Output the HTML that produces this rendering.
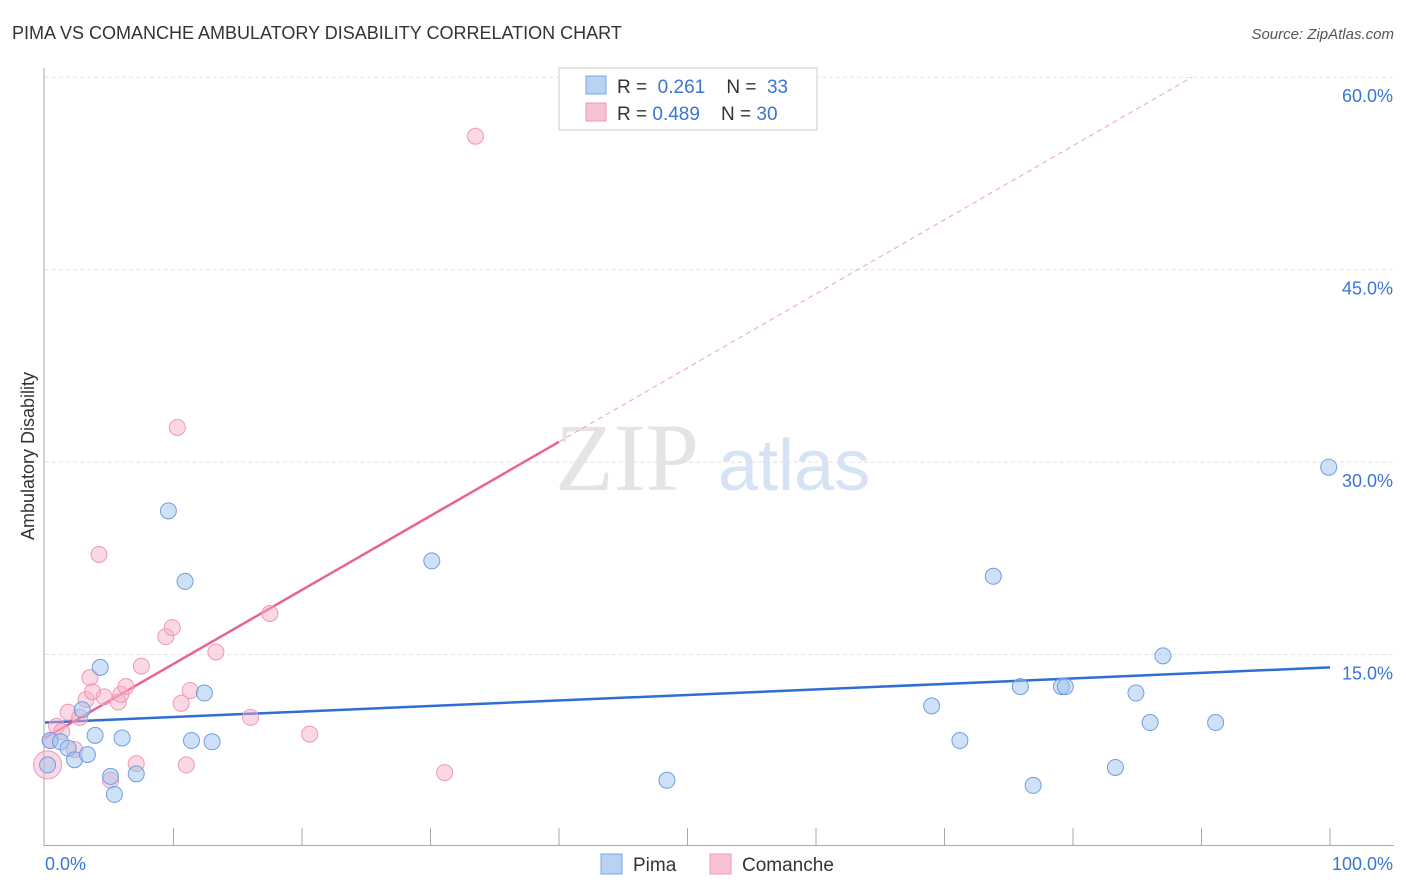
<!DOCTYPE html>
<html><head><meta charset="utf-8"><style>
body{margin:0;background:#fff;font-family:"Liberation Sans",sans-serif;}
svg{display:block}
</style></head><body>
<svg id="chart" width="1406" height="892">
<text x="12" y="39" font-size="18" fill="#333">PIMA VS COMANCHE AMBULATORY DISABILITY CORRELATION CHART</text>
<text x="1394" y="39" font-size="15" fill="#555" font-style="italic" text-anchor="end">Source: ZipAtlas.com</text>
<text transform="translate(34,456) rotate(-90)" font-size="18" fill="#333" text-anchor="middle">Ambulatory Disability</text>
<g><text x="555" y="490" font-size="96" font-family="Liberation Serif,serif" fill="#e4e4e4">ZIP</text><text x="718" y="490" font-size="72" fill="#d5e3f5">atlas</text></g>
<g id="grid"></g><g id="axes"></g><g id="trend"></g><g id="pts"></g>
<g>
<rect x="559" y="68" width="258" height="62" fill="#fff" stroke="#ccc"/>
<rect x="586" y="76" width="20" height="18" fill="#b7d2f4" stroke="#7aa7e0"/>
<text x="617" y="93" font-size="19" fill="#333">R = <tspan fill="#3a75d6">&#160;0.261</tspan>&#160;&#160;&#160; N = <tspan fill="#3a75d6">&#160;33</tspan></text>
<rect x="586" y="103" width="20" height="18" fill="#f9c3d4" stroke="#ef98b4"/>
<text x="617" y="120" font-size="19" fill="#333">R = <tspan fill="#3a75d6">0.489</tspan>&#160;&#160;&#160; N = <tspan fill="#3a75d6">30</tspan></text>
</g>
<g>
<rect x="601" y="854" width="21" height="20" fill="#b7d2f4" stroke="#7aa7e0"/><text x="633" y="871" font-size="19" fill="#333">Pima</text>
<rect x="710" y="854" width="21" height="20" fill="#f9c3d4" stroke="#ef98b4"/><text x="742" y="871" font-size="19" fill="#333">Comanche</text>
</g>
</svg>
<script>
const pimaX=[0.4,1.2,1.8,2.3,2.9,3.3,3.9,4.3,5.1,5.4,6.0,7.1,9.6,10.9,11.4,12.4,13.0,30.1,48.4,69.0,71.2,73.8,75.9,76.9,79.1,79.4,83.3,84.9,86.0,87.0,91.1,99.9,0.2];
const pimaY=[8.3,8.2,7.7,6.8,10.7,7.2,8.7,14.0,5.5,4.1,8.5,5.7,26.2,20.7,8.3,12.0,8.2,22.3,5.2,11.0,8.3,21.1,12.5,4.8,12.5,12.5,6.2,12.0,9.7,14.9,9.7,29.6,6.4];
const comX=[0.2,0.4,0.9,1.3,1.8,2.3,2.7,3.2,3.5,3.7,4.2,4.6,5.1,5.7,5.9,6.3,7.1,7.5,9.4,9.9,10.3,10.6,11.0,11.3,13.3,16.0,17.5,20.6,31.1,33.5];
const comY=[6.4,8.3,9.4,9.0,10.5,7.6,10.1,11.5,13.2,12.1,22.8,11.7,5.2,11.3,11.9,12.5,6.5,14.1,16.4,17.1,32.7,11.2,6.4,12.2,15.2,10.1,18.2,8.8,5.8,55.4];
const yTicks=[15,30,45,60];
const yTickLabels=["15.0%","30.0%","45.0%","60.0%"];
const pimaTrend=[9.7,14.0];
const comTrend=[8.5,66.2];
const comSolidEnd=40;
const NS="http://www.w3.org/2000/svg";
const xs=v=>45+v*12.85, ys=v=>847-v*12.83;
function mk(tag,attrs,parent){const e=document.createElementNS(NS,tag);for(const k in attrs)e.setAttribute(k,attrs[k]);document.getElementById(parent).appendChild(e);return e;}
yTicks.forEach((t,i)=>{
 const g=mk('line',{x1:45,x2:1394,y1:ys(t),y2:ys(t),stroke:'#e2e2e2','stroke-dasharray':'4,3'},'grid');
 
 
 const l=mk('text',{x:1393,y:ys(t)+25,'font-size':18,fill:'#3a75d6','text-anchor':'end'},'grid');
 l.textContent=yTickLabels[i];
 
 
});
const ax=mk('line',{x1:44,x2:44,y1:68,y2:846,stroke:'#aaa'},'axes');


const bx=mk('line',{x1:44,x2:1394,y1:845.5,y2:845.5,stroke:'#aaa'},'axes');


for(let i=1;i<=10;i++){const t=mk('line',{x1:xs(i*10),x2:xs(i*10),y1:828,y2:845,stroke:'#aaa'},'axes');
 
 }
const x0=mk('text',{x:45,y:870,'font-size':18,fill:'#3a75d6'},'axes');x0.textContent='0.0%';


const x1=mk('text',{x:1393,y:870,'font-size':18,fill:'#3a75d6','text-anchor':'end'},'axes');x1.textContent='100.0%';


const bt=mk('line',{x1:xs(0),y1:ys(pimaTrend[0]),x2:xs(100),y2:ys(pimaTrend[1]),stroke:'#2f6fd4','stroke-width':2.5},'trend');


const cAt=x=>comTrend[0]+(comTrend[1]-comTrend[0])*x/100;
const ct=mk('line',{x1:xs(0),y1:ys(cAt(0)),x2:xs(comSolidEnd),y2:ys(cAt(comSolidEnd)),stroke:'#e8648f','stroke-width':2.5},'trend');


const xEnd=(60-comTrend[0])/(comTrend[1]-comTrend[0])*100;
const cd=mk('line',{x1:xs(comSolidEnd),y1:ys(cAt(comSolidEnd)),x2:xs(xEnd),y2:ys(60),stroke:'#eea0b8','stroke-width':1,'stroke-dasharray':'5,4'},'trend');


comX.forEach((v,i)=>{const c=mk('circle',{cx:xs(v),cy:ys(comY[i]),r:i===0?14:8,fill:'rgba(247,170,196,0.45)',stroke:'#ef98b4','stroke-width':1},'pts');
 
 });
pimaX.forEach((v,i)=>{const c=mk('circle',{cx:xs(v),cy:ys(pimaY[i]),r:8,fill:'rgba(160,195,240,0.5)',stroke:'#6d9fe0','stroke-width':1},'pts');
 
 });
</script>
</body></html>
